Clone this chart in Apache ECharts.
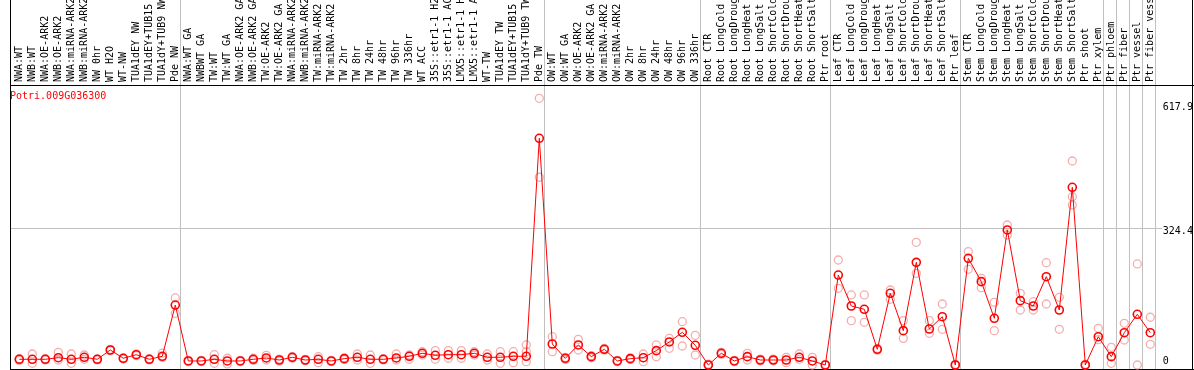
<!DOCTYPE html>
<html><head><meta charset="utf-8">
<script src="https://cdn.jsdelivr.net/npm/echarts@6/dist/echarts.min.js"></script>
<style>html,body{margin:0;padding:0;background:#fff}#c{width:1194px;height:370px}</style>
</head><body><div id="c"></div>
<script>
const geneId = 'Potri.009G036300';
const categories = [
 'NWA:WT','NWB:WT','NWA:OE-ARK2','NWB:OE-ARK2','NWA:miRNA-ARK2','NWB:miRNA-ARK2','NW 0hr','WT H2O','WT-NW','TUA1dEY NW','TUA1dEY+TUB15 NW','TUA1dY+TUB9 NW','Pde NW',
 'NWA:WT GA','NWBWT GA','TW:WT','TW:WT GA','NWA:OE-ARK2 GA','NWB:OE-ARK2 GA','TW:OE-ARK2','TW:OE-ARK2 GA','NWA:miRNA-ARK2 GA','NWB:miRNA-ARK2 GA','TW:miRNA-ARK2','TW:miRNA-ARK2 GA','TW 2hr','TW 8hr','TW 24hr','TW 48hr','TW 96hr','TW 336hr','WT ACC','35S::etr1-1 H2O','35S::etr1-1 ACC','LMX5::etr1-1 H2O','LMX5::etr1-1 ACC','WT-TW','TUA1dEY TW','TUA1dEY+TUB15 TW','TUA1dY+TUB9 TW','Pde TW',
 'OW:WT','OW:WT GA','OW:OE-ARK2','OW:OE-ARK2 GA','OW:miRNA-ARK2','OW:miRNA-ARK2 GA','OW 2hr','OW 8hr','OW 24hr','OW 48hr','OW 96hr','OW 336hr',
 'Root CTR','Root LongCold','Root LongDrought','Root LongHeat','Root LongSalt','Root ShortCold','Root ShortDrought','Root ShortHeat','Root ShortSalt','Ptr root',
 'Leaf CTR','Leaf LongCold','Leaf LongDrought','Leaf LongHeat','Leaf LongSalt','Leaf ShortCold','Leaf ShortDrought','Leaf ShortHeat','Leaf ShortSalt','Ptr leaf',
 'Stem CTR','Stem LongCold','Stem LongDrought','Stem LongHeat','Stem LongSalt','Stem ShortCold','Stem ShortDrought','Stem ShortHeat','Stem ShortSalt','Ptr shoot',
 'Ptr xylem','Ptr phloem','Ptr fiber','Ptr vessel','Ptr fiber vessel'
];
const meanValues = [
 13.5,13.5,13.5,17.3,13.5,18.2,13.5,35.5,15.9,24.4,13.5,20.6,142,
 9.5,9.5,13.5,9.5,9.5,13.5,16.6,11.8,18.2,11.8,13.5,9.5,15,18.2,13.5,13.5,16.6,20.6,27.7,23,24.4,24.4,27.7,18.2,18.2,20.6,20.6,536.8,
 49.7,15.8,47.4,19.7,37.2,9.5,15,17.3,34,54.5,77.4,46.6,
 0,27.7,9.5,19.7,11.8,11.8,11.8,18.2,9.5,0,
 213,139.7,131.9,37.2,169.8,81.3,243.1,85.2,114.4,0,
 252.6,197.3,110.6,319.7,152.3,139.7,209.1,130.2,420.8,0,
 67,19.7,76.5,120,76.5
];
const repHigh = [
 15,26,15,30,26,23.7,14.5,37,17,26,15,28,158.7,
 11,11,24.4,15.9,11,16,23,14,20,13,19.7,11,17,26,23.7,15,26,23.7,31.5,34,34,34,31.5,26,31.5,31.5,47.4,631.5,
 67,18,60.8,22,39,11,17,26,47.4,63.1,102.5,70.3,
 2,30,11,27.7,14,14,18.2,26,18.2,1.5,
 248.6,165.8,165.8,39,177.6,105,290.5,105,144.4,1.5,
 268.4,205.2,148.5,331.5,169.8,149.9,242.3,160.3,483,1.5,
 86.9,41.9,98.7,239.2,113
];
const repLow = [
 11,4,12,11.8,4,13.5,12,34,14,22,12,18,122,
 8,8,4,2.4,8,11,11.8,9,16,10,5.5,8,13,11.8,4,12,11.8,13.5,23.7,13.5,15.9,15.9,23.7,11.8,4,5.5,7.8,444.5,
 31.5,13,35.5,17,35,8,13,7.8,19.7,39.5,45,23.7,
 0,25,8,11.8,10,10,5.5,13.5,0,0,
 181.6,105,101,35,155.6,63.1,217,75,84.5,0,
 226.6,183,81.3,307.8,130.2,130.2,144.4,84.5,398.5,0,
 60,4,59.2,0,49
];
const repExtra = [
 null,null,null,null,null,null,null,null,null,null,null,null,null,
 null,null,null,null,null,null,null,null,null,null,null,null,null,null,null,null,null,null,null,null,null,null,null,null,null,null,31.5,null,
 null,null,null,null,null,null,null,null,null,null,null,null,
 null,null,null,null,null,null,null,null,null,null,
 null,null,null,null,null,null,null,null,null,null,
 null,null,null,null,null,null,null,null,378.9,null,
 null,null,null,null,null
];
const groupEnds = [12,40,52,62,72,83,84,85,86,87];
const yTickValues = [0, 324.4, 617.9];
const yTickLabels = ['0', '324.4', '617.9'];

const FONT = 'DejaVu Sans Mono';
const chart = echarts.init(document.getElementById('c'), null, {renderer: 'canvas'});
const repStyle = {color: 'rgba(0,0,0,0)', borderColor: '#f09a9a', borderWidth: 1.3};
function repSeries(name, data) {
  return {name, type: 'scatter', data, symbol: 'circle', symbolSize: 8, itemStyle: repStyle, z: 2, silent: true};
}
chart.setOption({
  animation: false,
  backgroundColor: '#fff',
  title: {text: geneId, left: 10, top: 91, padding: 0,
    textStyle: {color: '#ff0000', fontFamily: FONT, fontSize: 10, fontWeight: 'normal'}},
  grid: {left: 12.8, width: 1144, top: 85, height: 284, containLabel: false, outerBoundsMode: 'none'},
  xAxis: {type: 'category', data: categories, position: 'top', boundaryGap: true,
    axisLine: {show: false}, axisTick: {show: false}, splitLine: {show: false},
    axisLabel: {rotate: 90, interval: 0, margin: 3, color: '#000', fontFamily: FONT, fontSize: 10}},
  yAxis: {type: 'value', min: -9.5, max: 663, position: 'right',
    axisLine: {show: false}, axisTick: {show: false}, splitLine: {show: false},
    axisLabel: {customValues: yTickValues, margin: 6, color: '#000', fontFamily: FONT, fontSize: 10, align: 'left',
      formatter: v => {
        let best = 0;
        yTickValues.forEach((t, i) => { if (Math.abs(t - v) < Math.abs(yTickValues[best] - v)) best = i; });
        return (yTickValues[best] === 0 ? '{lo|' : '{hi|') + yTickLabels[best] + '}';
      },
      rich: {hi: {padding: [7, 0, 0, 0], fontFamily: FONT, fontSize: 10, color: '#000'},
             lo: {padding: [0, 0, 7, 0], fontFamily: FONT, fontSize: 10, color: '#000'}}}},
  series: [
    repSeries('rep1', repHigh),
    repSeries('rep2', repLow),
    repSeries('rep3', repExtra),
    {name: 'mean', type: 'line', data: meanValues, symbol: 'circle', symbolSize: 8, showAllSymbol: true,
      lineStyle: {color: '#ff0000', width: 1},
      itemStyle: {color: 'rgba(0,0,0,0)', borderColor: '#ff0000', borderWidth: 1.6}, z: 3, silent: true}
  ]
});

const px = i => chart.convertToPixel({xAxisIndex: 0}, i);
const py = v => chart.convertToPixel({yAxisIndex: 0}, v);
const step = px(1) - px(0);
const g = [];
const line = (x1, y1, x2, y2, color) => ({type: 'line', shape: {x1, y1, x2, y2}, style: {stroke: color, lineWidth: 1}, silent: true, z: -1});
groupEnds.forEach(e => {
  const x = Math.round(px(e) + step * 0.36) + 0.5;
  g.push(line(x, 0, x, 370, '#c0c0c0'));
});
const gy = Math.round(py(yTickValues[1])) + 0.5;
g.push(line(10, gy, 1162, gy, '#c0c0c0'));
g.push(line(10.5, 0, 10.5, 370, '#000'));
g.push(line(1192.5, 0, 1192.5, 370, '#000'));
g.push(line(10, 85.5, 1194, 85.5, '#000'));
g.push(line(10, 369.5, 1194, 369.5, '#000'));
chart.setOption({graphic: g});
</script>
</body></html>
